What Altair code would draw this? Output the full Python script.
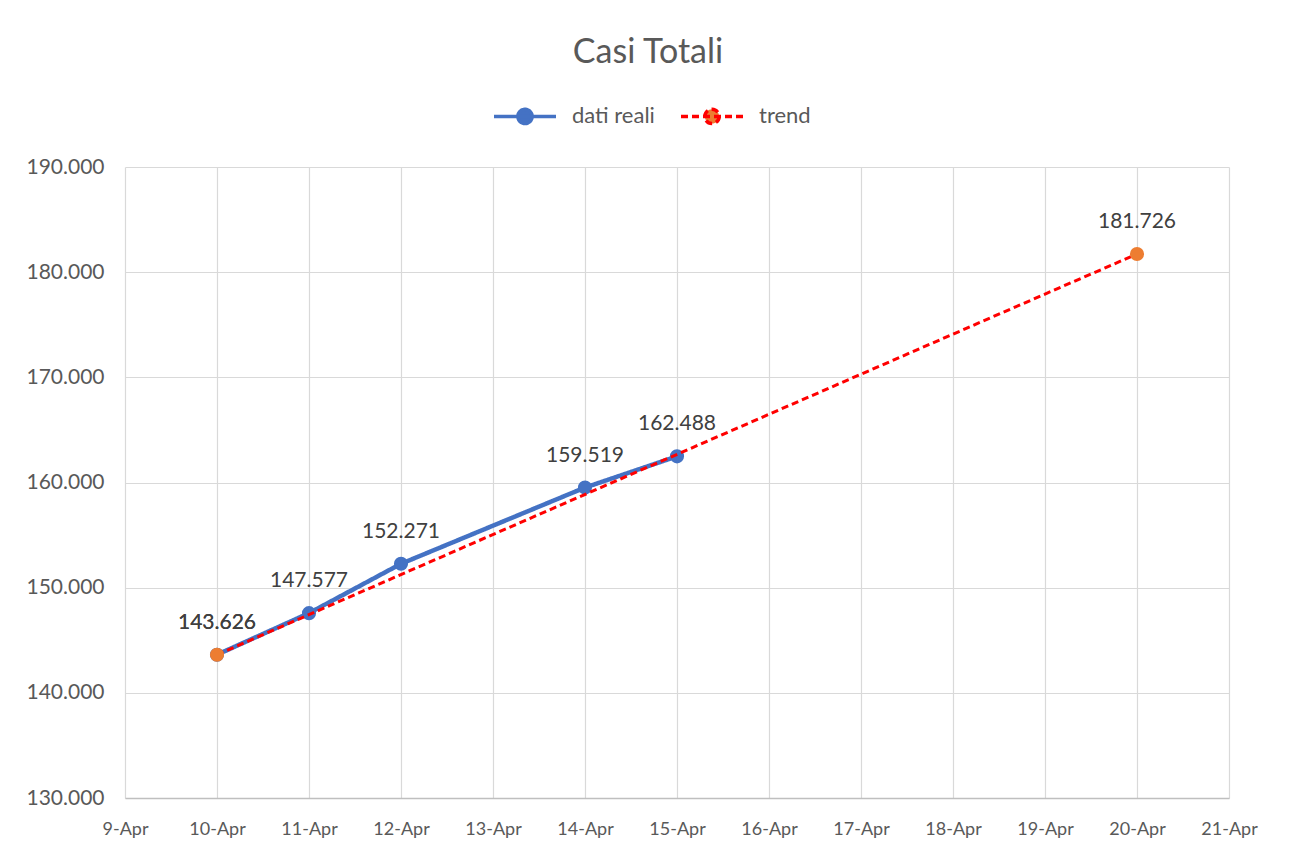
import altair as alt
import pandas as pd

# ---- data ----
giorni_reali = ["10-Apr", "11-Apr", "12-Apr", "14-Apr", "15-Apr"]
valori_reali = [143626, 147577, 152271, 159519, 162488]
giorni_trend = ["10-Apr", "20-Apr"]
valori_trend = [143626, 181726]
tick_giorni = ["9-Apr", "10-Apr", "11-Apr", "12-Apr", "13-Apr", "14-Apr", "15-Apr",
               "16-Apr", "17-Apr", "18-Apr", "19-Apr", "20-Apr", "21-Apr"]
tick_valori = [130000, 140000, 150000, 160000, 170000, 180000, 190000]
serie = ["dati reali", "trend"]


def giorno(s):
    return int(s.split("-")[0])


reali = pd.DataFrame({"giorno": [giorno(g) for g in giorni_reali],
                      "casi": valori_reali, "serie": serie[0]})
trend = pd.DataFrame({"giorno": [giorno(g) for g in giorni_trend],
                      "casi": valori_trend, "serie": serie[1]})

FONT = "Lato"
GREY = "#595959"

x = alt.X("giorno:Q",
          scale=alt.Scale(domain=[giorno(tick_giorni[0]), giorno(tick_giorni[-1])], nice=False, zero=False),
          axis=alt.Axis(values=[giorno(g) for g in tick_giorni], labelExpr="datum.value + '-Apr'",
                        title=None, grid=True, ticks=False, domain=True, domainColor="#bfbfbf",
                        domainWidth=1.5, labelFontSize=18, labelPadding=22, labelColor=GREY,
                        labelFont=FONT, labelFlush=False, labelOverlap=False))
y = alt.Y("casi:Q",
          scale=alt.Scale(domain=[tick_valori[0], tick_valori[-1]], nice=False, zero=False),
          axis=alt.Axis(values=tick_valori,
                        labelExpr="replace(format(datum.value, ','), ',', '.')",
                        title=None, grid=True, ticks=False, domain=False, labelFontSize=21,
                        labelPadding=21, labelColor=GREY, labelFont=FONT))

legenda = alt.Legend(
    title=None, orient="none", direction="horizontal", legendX=367, legendY=-84,
    symbolType="M-1,0L1,0M0.23,0A0.23,0.23,0,1,1,-0.23,0A0.23,0.23,0,1,1,0.23,0Z",
    symbolSize=3844, symbolStrokeWidth=3.5,
    symbolFillColor={"expr": "datum.value == 'trend' ? '#ED7D31' : '#4472C4'"},
    labelFontSize=22, labelColor=GREY, labelFont=FONT, labelOffset=14, columnPadding=19,
)
stroke = alt.Stroke("serie:N", scale=alt.Scale(domain=serie, range=["#4472C4", "#FF0000"]),
                    legend=legenda)
dash = alt.StrokeDash("serie:N", scale=alt.Scale(domain=serie, range=[[1, 0], [7, 4]]),
                      legend=legenda)

etichetta = "replace(format(datum.casi, ','), ',', '.')"

linea_reali = alt.Chart(reali).mark_line(strokeWidth=4.5).encode(x=x, y=y, stroke=stroke, strokeDash=dash)
punti_reali = alt.Chart(reali).mark_circle(size=200, opacity=1, color="#4472C4").encode(x=x, y=y)
linea_trend = alt.Chart(trend).mark_line(strokeWidth=3).encode(x=x, y=y, stroke=stroke, strokeDash=dash)
punti_trend = alt.Chart(trend).mark_circle(size=200, opacity=1, color="#ED7D31").encode(x=x, y=y)
testo_reali = alt.Chart(reali).transform_calculate(etichetta=etichetta).mark_text(
    dy=-32, fontSize=21, color="#404040", font=FONT).encode(x=x, y=y, text="etichetta:N")
testo_trend = alt.Chart(trend).transform_calculate(etichetta=etichetta).mark_text(
    dy=-32, fontSize=21, color="#404040", font=FONT).encode(x=x, y=y, text="etichetta:N")

chart = alt.layer(
    linea_reali, punti_reali, linea_trend, punti_trend, testo_reali, testo_trend
).properties(
    width=1104, height=631,
    autosize=alt.AutoSizeParams(type="none"),
    padding={"left": 117, "top": 159, "right": 45, "bottom": 40},
    title=alt.TitleParams("Casi Totali", fontSize=34, color=GREY, font=FONT,
                          fontWeight="normal", anchor="middle", offset=13, dx=-29),
).configure_view(stroke=None).configure_axis(gridColor="#d9d9d9", gridWidth=1.2)

chart.save("out.html", embed_options={"renderer": "svg", "actions": False})
